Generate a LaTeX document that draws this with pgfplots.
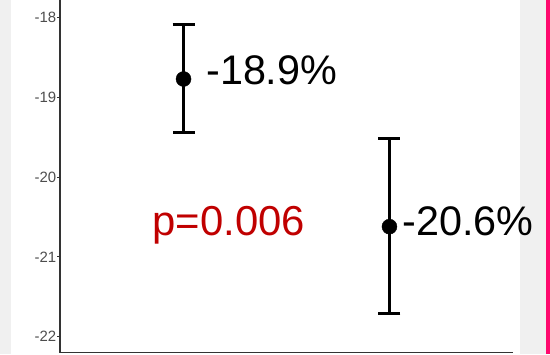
\documentclass[border=0pt]{standalone}
\usepackage{pgfplots}
\pgfplotsset{compat=1.18}
\usepackage{fontspec}
\setmainfont{Liberation Sans}
\definecolor{bggray}{RGB}{240,240,240}
\definecolor{edgepink}{RGB}{255,10,110}
\definecolor{pred}{RGB}{192,0,0}
\definecolor{ticklab}{RGB}{77,77,77}
\begin{document}
\begin{tikzpicture}[x=1bp,y=1bp]
\useasboundingbox (0,0) rectangle (550,354);
\fill[bggray] (0,0) rectangle (11,354);
\fill[bggray] (520,0) rectangle (546,354);
\fill[edgepink] (546,0) rectangle (550,354);
\begin{axis}[
  at={(60bp,1.5bp)}, anchor=south west,
  scale only axis, width=453bp, height=352.5bp,
  xmin=0.4, xmax=2.6, ymin=-22.198, ymax=-17.781,
  axis x line=bottom, axis y line=left,
  axis line style={-, line width=1.2bp, black!80},
  xtick=\empty,
  ytick={-22,-21,-20,-19,-18},
  yticklabels={-22,-21,-20,-19,-18},
  tick align=outside,
  major tick length=3bp,
  tick style={line width=1bp, black!80},
  yticklabel style={font=\fontsize{15}{15}\selectfont, text=ticklab, inner sep=0pt, xshift=-0.5bp},
  clip=false,
]
\addplot[black, only marks, mark=*, mark size=7.5bp,
  error bars/.cd, y dir=both, y explicit, error mark=|,
  error bar style={line width=2.5bp, black},
  error mark options={line width=2.5bp, mark size=11bp, black}]
  coordinates {
    (1,-18.771) += (0,0.686) -= (0,0.673)
    (2,-20.621) += (0,1.107) -= (0,1.086)
  };
\node[anchor=west, inner sep=0pt, font=\fontsize{41.5}{41.5}\selectfont, xshift=22.5bp, yshift=9bp] at (axis cs:1,-18.771) {-18.9\%};
\node[anchor=west, inner sep=0pt, font=\fontsize{41.5}{41.5}\selectfont, xshift=13bp, yshift=5.7bp] at (axis cs:2,-20.621) {-20.6\%};
\node[anchor=base, inner sep=0pt, font=\fontsize{42}{42}\selectfont, text=pred] at (axis cs:1.22,-20.726) {p=0.006};
\end{axis}
\end{tikzpicture}
\end{document}
